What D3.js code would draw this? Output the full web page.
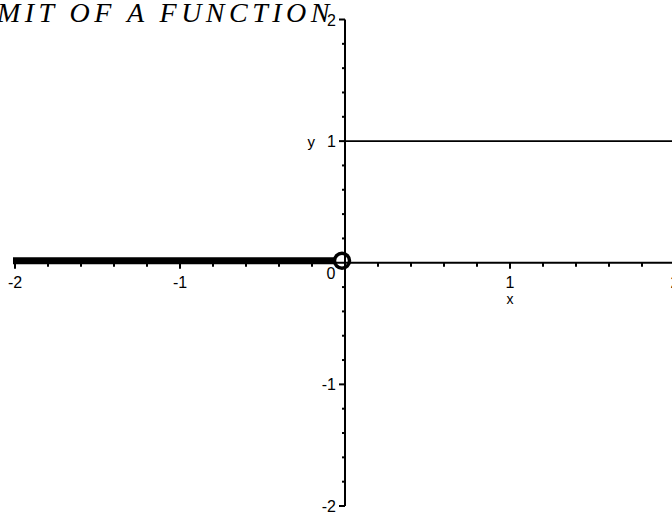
<!DOCTYPE html>
<html>
<head>
<meta charset="utf-8">
<script src="https://cdn.jsdelivr.net/npm/d3@7"></script>
<style>
  html, body { margin: 0; padding: 0; background: #fff; }
  svg { display: block; }
  .tick-label { font-family: "Liberation Sans", Arial, sans-serif; font-size: 16px; fill: #000; }
  .title { font-family: "Liberation Serif", "DejaVu Serif", serif; font-style: italic; font-size: 28px; fill: #000; letter-spacing: 4.5px; }
</style>
</head>
<body>
<svg id="chart" width="672" height="516"></svg>
<script>
// Piecewise function: f(x) = 0 for x < 0, f(x) = 1 for x >= 0
const titleText = "LIMIT OF A FUNCTION";
const xDomain = [-2, 2];
const yDomain = [-2, 2];
const xTickValues = [-2, -1, 0, 1, 2];
const yTickValues = [-2, -1, 1, 2];
const xTickLabels = ["-2", "-1", "0", "1", "2"];
const yTickLabels = ["-2", "-1", "1", "2"];
const minorPerUnit = 5;

// Left branch (thick) and right branch (thin)
const leftBranchX = [-2, 0];
const leftBranchY = [0, 0];
const rightBranchX = [0, 2];
const rightBranchY = [1, 1];
// Open endpoint marker
const openPoint = { x: 0, y: 0 };

const svg = d3.select("#chart");

const x = d3.scaleLinear().domain(xDomain).range([15, 675]);
const y = d3.scaleLinear().domain(yDomain).range([506, 19.5]);

const x0 = x(0), y0 = y(0);

// minor tick positions
const minorX = d3.range(xDomain[0] * minorPerUnit, xDomain[1] * minorPerUnit + 1)
  .map(d => d / minorPerUnit).filter(d => d !== 0);
const minorY = d3.range(yDomain[0] * minorPerUnit, yDomain[1] * minorPerUnit + 1)
  .map(d => d / minorPerUnit).filter(d => d !== 0);

// Title (runs off the left edge)
svg.append("text").attr("class", "title")
  .attr("x", 334).attr("y", 22)
  .attr("text-anchor", "end")
  .text(titleText);

// Curves
const line = d3.line().x(d => x(d[0])).y(d => y(d[1]));

svg.append("path")
  .datum(rightBranchX.map((d, i) => [d, rightBranchY[i]]))
  .attr("d", line)
  .attr("fill", "none").attr("stroke", "#000").attr("stroke-width", 1.6);

const thick = svg.append("g").attr("transform", "translate(-2,-2)");
thick.append("path")
  .datum(leftBranchX.map((d, i) => [d, leftBranchY[i]]))
  .attr("d", line)
  .attr("fill", "none").attr("stroke", "#000").attr("stroke-width", 7);

// x axis
const xAxis = svg.append("g");
xAxis.append("line")
  .attr("x1", x(xDomain[0])).attr("x2", x(xDomain[1]))
  .attr("y1", y0).attr("y2", y0)
  .attr("stroke", "#000").attr("stroke-width", 2);
xAxis.selectAll(".mx").data(minorX).enter().append("line")
  .attr("x1", d => x(d)).attr("x2", d => x(d))
  .attr("y1", y0).attr("y2", d => Number.isInteger(d) ? y0 + 6 : y0 + 4)
  .attr("stroke", "#000").attr("stroke-width", 2);
xAxis.selectAll(".xl").data(xTickValues).enter().append("text")
  .attr("class", "tick-label")
  .attr("x", d => d === 0 ? x(d) - 14 : x(d))
  .attr("y", d => d === 0 ? y0 + 16 : y0 + 25)
  .attr("text-anchor", "middle")
  .text((d, i) => xTickLabels[i]);
xAxis.append("text").attr("class", "tick-label")
  .attr("x", x(1)).attr("y", y0 + 41)
  .attr("text-anchor", "middle")
  .style("font-size", "14px")
  .text("x");

// y axis
const yAxis = svg.append("g");
yAxis.append("line")
  .attr("x1", x0).attr("x2", x0)
  .attr("y1", y(yDomain[0])).attr("y2", y(yDomain[1]))
  .attr("stroke", "#000").attr("stroke-width", 2);
yAxis.selectAll(".my").data(minorY).enter().append("line")
  .attr("y1", d => y(d)).attr("y2", d => y(d))
  .attr("x1", x0).attr("x2", d => Number.isInteger(d) ? x0 - 6 : x0 - 3)
  .attr("stroke", "#000").attr("stroke-width", 2);
yAxis.selectAll(".yl").data(yTickValues).enter().append("text")
  .attr("class", "tick-label")
  .attr("x", x0 - 9)
  .attr("y", d => y(d) + 6)
  .attr("text-anchor", "end")
  .text((d, i) => yTickLabels[i]);
yAxis.append("text").attr("class", "tick-label")
  .attr("x", x0 - 30).attr("y", y(1) + 6)
  .attr("text-anchor", "end")
  .style("font-size", "15px")
  .text("y");

// Open circle at the jump
thick.append("circle")
  .attr("cx", x(openPoint.x) - 1).attr("cy", y(openPoint.y))
  .attr("r", 7.5)
  .attr("fill", "#fff").attr("stroke", "#000").attr("stroke-width", 3.5);
</script>
</body>
</html>
